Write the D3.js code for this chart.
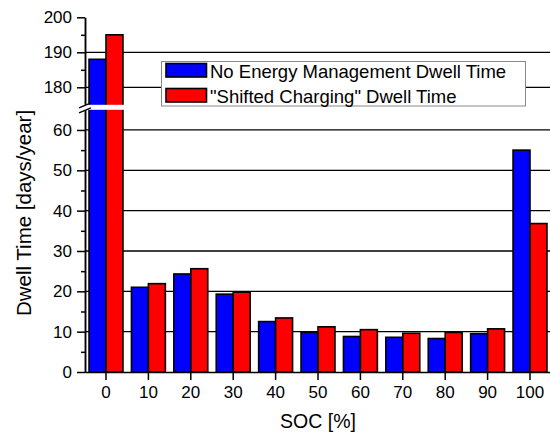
<!DOCTYPE html>
<html>
<head>
<meta charset="utf-8">
<script src="https://cdn.jsdelivr.net/npm/d3@7"></script>
<style>
  body { margin: 0; background: #fff; }
  svg { display: block; font-family: "Liberation Sans", Arial, sans-serif; }
</style>
</head>
<body>
<div id="chart"></div>
<script>
// SOC bins and dwell times (days/year)
const socLabels = ["0", "10", "20", "30", "40", "50", "60", "70", "80", "90", "100"];
const noEnergyMgmt = [188, 21.0, 24.3, 19.3, 12.5, 9.8, 8.8, 8.6, 8.3, 9.5, 55.0];
const shiftedCharging = [195, 21.9, 25.6, 19.8, 13.4, 11.2, 10.5, 9.6, 9.8, 10.7, 36.8];
const seriesNames = ["No Energy Management Dwell Time", "\"Shifted Charging\" Dwell Time"];
const upperTicks = [180, 190, 200];
const lowerTicks = [0, 10, 20, 30, 40, 50, 60];

const W = 550, H = 436;
const COLORS = ["#0000ff", "#ff0000"];

const svg = d3.select("#chart").append("svg")
  .attr("width", W).attr("height", H);

// broken y axis: lower panel 0..65, upper panel 175..200
const x = d3.scaleBand().domain(socLabels).range([84.8, 551.2])
  .paddingInner(0.2).paddingOuter(0.1);
const x1 = d3.scaleBand().domain([0, 1]).range([0, x.bandwidth()]);
const yLow = d3.scaleLinear().domain([0, 65]).range([372, 109.8]);
const yUp = d3.scaleLinear().domain([175, 200]).range([104.8, 17.3]);
const yOf = v => v > 65 ? yUp(v) : yLow(v);

/* gridlines */
const grid = svg.append("g").attr("stroke", "#000").attr("stroke-width", 1.3);
grid.selectAll("line.up").data([180, 190]).enter().append("line")
  .attr("x1", 85).attr("x2", W).attr("y1", d => yUp(d)).attr("y2", d => yUp(d));
grid.selectAll("line.lo").data(lowerTicks.filter(d => d > 0)).enter().append("line")
  .attr("x1", 85).attr("x2", W).attr("y1", d => yLow(d)).attr("y2", d => yLow(d));

/* bars */
const rows = socLabels.map((s, i) => ({ soc: s, vals: [noEnergyMgmt[i], shiftedCharging[i]] }));
const groups = svg.append("g").selectAll("g").data(rows).enter().append("g")
  .attr("transform", d => `translate(${x(d.soc)},0)`);
groups.selectAll("rect").data(d => d.vals.map((v, k) => ({ v, k }))).enter().append("rect")
  .attr("x", d => x1(d.k)).attr("width", x1.bandwidth())
  .attr("y", d => yOf(d.v)).attr("height", d => yLow(0) - yOf(d.v))
  .attr("fill", d => COLORS[d.k]).attr("stroke", "#000").attr("stroke-width", 1.6);

/* axes */
function styleAxis(g) {
  g.selectAll("path, line").attr("stroke", "#000").attr("stroke-width", 1.5);
  g.selectAll("text").attr("fill", "#000").style("font-size", "17px")
    .style("font-family", "'Liberation Sans', Arial, sans-serif");
}
svg.append("g").attr("transform", "translate(85,0)")
  .call(d3.axisLeft(yUp).tickValues(upperTicks).tickSize(8).tickSizeOuter(0).tickPadding(5))
  .call(styleAxis);
svg.append("g").attr("transform", "translate(85,0)")
  .call(d3.axisLeft(yUp).tickValues([185, 195]).tickSize(4).tickSizeOuter(0).tickFormat(""))
  .call(styleAxis);
svg.append("g").attr("transform", "translate(85,0)")
  .call(d3.axisLeft(yLow).tickValues(lowerTicks).tickSize(8).tickSizeOuter(0).tickPadding(5))
  .call(styleAxis);
svg.append("g").attr("transform", "translate(85,0)")
  .call(d3.axisLeft(yLow).tickValues([5, 15, 25, 35, 45, 55]).tickSize(4).tickSizeOuter(0).tickFormat(""))
  .call(styleAxis);
svg.append("g").attr("transform", "translate(0,372)")
  .call(d3.axisBottom(x).tickSize(8).tickSizeOuter(0).tickPadding(6))
  .call(styleAxis);

/* axis break */
svg.append("rect").attr("x", 78).attr("y", yUp(175)).attr("width", W - 78)
  .attr("height", yLow(65) - yUp(175)).attr("fill", "#fff");
svg.append("g").attr("stroke", "#000").attr("stroke-width", 1.3)
  .selectAll("line").data([yUp(175), yLow(65)]).enter().append("line")
  .attr("x1", 79).attr("x2", 91).attr("y1", d => d + 3).attr("y2", d => d - 2);

/* axis titles */
svg.append("text").attr("x", 318).attr("y", 428).attr("text-anchor", "middle")
  .style("font-size", "19.5px").text("SOC [%]");
svg.append("text").attr("transform", "translate(31,213) rotate(-90)").attr("text-anchor", "middle")
  .style("font-size", "20.5px").text("Dwell Time [days/year]");

/* legend */
const legend = svg.append("g");
legend.append("rect").attr("x", 161.5).attr("y", 61.5).attr("width", 364).attr("height", 44.5)
  .attr("fill", "#fff").attr("stroke", "#888").attr("stroke-width", 1);
seriesNames.forEach((name, i) => {
  const row = legend.append("g").attr("transform", `translate(166, ${63.5 + i * 25})`);
  row.append("rect").attr("width", 40.5).attr("height", 13.5)
    .attr("fill", COLORS[i]).attr("stroke", "#000").attr("stroke-width", 1.6);
  row.append("text").attr("x", 44).attr("y", 14.5)
    .style("font-size", "18.5px").attr("fill", "#000").text(name);
});
</script>
</body>
</html>
